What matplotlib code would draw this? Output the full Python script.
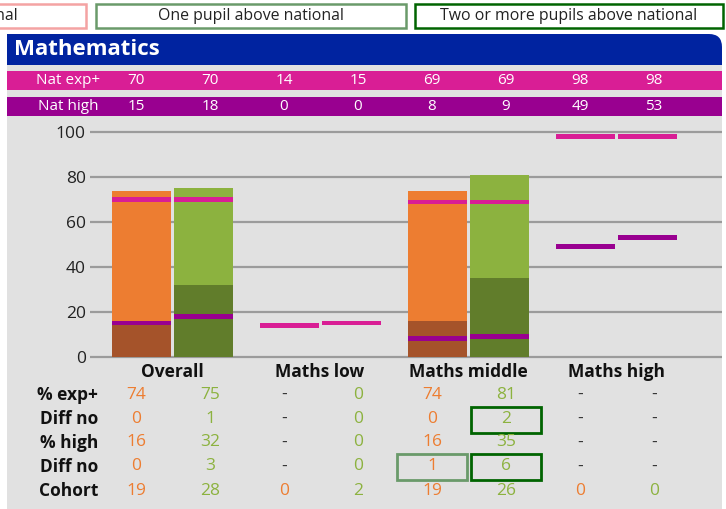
import matplotlib
matplotlib.use("Agg")
import matplotlib.pyplot as plt
from matplotlib.patches import Rectangle, PathPatch
from matplotlib.path import Path

plt.rcParams['font.family'] = ['Open Sans', 'DejaVu Sans']

# ---------------- data ----------------
categories = ["Overall", "Maths low", "Maths middle", "Maths high"]
legend_labels = ["One pupil below national", "One pupil above national",
                 "Two or more pupils above national"]
nat_exp = [70, 70, 14, 15, 69, 69, 98, 98]
nat_high = [15, 18, 0, 0, 8, 9, 49, 53]
bar_exp = [74, 75, None, 0, 74, 81, None, None]
bar_high = [16, 32, None, 0, 16, 35, None, None]
row_labels = ["% exp+", "Diff no", "% high", "Diff no", "Cohort"]
row_exp = ["74", "75", "-", "0", "74", "81", "-", "-"]
row_diff1 = ["0", "1", "-", "0", "0", "2", "-", "-"]
row_high = ["16", "32", "-", "0", "16", "35", "-", "-"]
row_diff2 = ["0", "3", "-", "0", "1", "6", "-", "-"]
row_cohort = ["19", "28", "0", "2", "19", "26", "0", "0"]
highlights = [(1, 5, "two"), (3, 4, "one"), (3, 5, "two")]
yticks = [0, 20, 40, 60, 80, 100]

# ---------------- style ----------------
W, H = 726, 509
ORANGE, DORANGE = "#ED7D31", "#A5532A"
GREEN, DGREEN = "#8CB23F", "#617D2B"
MAGENTA, PURPLE = "#D91E95", "#990090"
BLUE = "#0023A0"
PANEL = "#E1E1E1"
GRID = "#9B9B9B"
BOX_ONE, BOX_TWO, BOX_BELOW = "#6A9A6A", "#006400", "#F4A3A3"

fig = plt.figure(figsize=(W / 100, H / 100), dpi=100)
fig.patch.set_facecolor("white")

# overlay axes in pixel coordinates
ov = fig.add_axes([0, 0, 1, 1], zorder=0)
ov.set_xlim(0, W)
ov.set_ylim(H, 0)
ov.axis("off")

# legend boxes
leg_boxes = [(-224, 86), (96, 406), (415, 723)]
leg_cols = [BOX_BELOW, BOX_ONE, BOX_TWO]
for (x0, x1), col, lab in zip(leg_boxes, leg_cols, legend_labels):
    ov.add_patch(Rectangle((x0, 4), x1 - x0, 24, fill=False, ec=col, lw=1.8))
    if x0 < 0:
        ov.text(x1 - 68, 16, lab, ha="right", va="center", fontsize=11.4, color="#222222")
    else:
        ov.text((x0 + x1) / 2, 16, lab, ha="center", va="center", fontsize=11.4, color="#222222")

# grey panel
ov.add_patch(Rectangle((7, 64), 715, H - 64, fc=PANEL, ec="none"))

# title band with rounded top-right corner
x0, x1, y0, y1, r = 7, 722, 34, 65, 13
verts = [(x0, y1), (x0, y0), (x1 - r, y0), (x1, y0), (x1, y0 + r), (x1, y1), (x0, y1)]
codes = [Path.MOVETO, Path.LINETO, Path.LINETO, Path.CURVE3, Path.CURVE3, Path.LINETO, Path.CLOSEPOLY]
ov.add_patch(PathPatch(Path(verts, codes), fc=BLUE, ec="none"))
ov.text(14, 49, "Mathematics", color="white", fontsize=16, fontweight="bold", va="center", ha="left")

# national bands
col_x = [136 + 74 * k for k in range(8)]
for (yb, ht, col, lab, vals) in [(71, 19, MAGENTA, "Nat exp+", nat_exp),
                                  (97, 19, PURPLE, "Nat high", nat_high)]:
    ov.add_patch(Rectangle((7, yb), 715, ht, fc=col, ec="none"))
    ov.text(68, yb + ht / 2, lab, color="white", fontsize=11, ha="center", va="center")
    for x, v in zip(col_x, vals):
        ov.text(x, yb + ht / 2, str(v), color="white", fontsize=11, ha="center", va="center")

# category labels
grp_x = [172 + 148 * i for i in range(4)]
for x, c in zip(grp_x, categories):
    ov.text(x, 372, c, fontsize=12.5, fontweight="bold", ha="center", va="center", color="#111111")

# table
rows = [row_exp, row_diff1, row_high, row_diff2, row_cohort]
row_y = [395, 419, 442.5, 466.5, 491]
for ry, lab, vals in zip(row_y, row_labels, rows):
    ov.text(98, ry, lab, fontsize=12.5, fontweight="bold", ha="right", va="center", color="#111111")
    for k, (x, v) in enumerate(zip(col_x, vals)):
        if v == "-":
            c = "#333333"
        else:
            c = ORANGE if k % 2 == 0 else GREEN
        ov.text(x, ry, v, fontsize=12.5, ha="center", va="center", color=c)
for r_i, c_i, kind in highlights:
    col = BOX_TWO if kind == "two" else BOX_ONE
    cx, cy = col_x[c_i], row_y[r_i]
    ov.add_patch(Rectangle((cx - 35, cy - 12.5), 70, 26, fill=False, ec=col, lw=2.0))

# ---------------- chart ----------------
px_per_unit = (356.7 - 132.3) / 100
ylo, yhi = -2, 102
bot_px = 356.7 + 2 * px_per_unit
top_px = 132.3 - 2 * px_per_unit
ax = fig.add_axes([90 / W, 1 - bot_px / H, (722 - 90) / W, (bot_px - top_px) / H], zorder=2)
ax.set_facecolor("none")
ax.set_xlim(90, 722)
ax.set_ylim(ylo, yhi)
for s in ax.spines.values():
    s.set_visible(False)
ax.set_xticks([])
ax.set_yticks(yticks)
ax.set_yticklabels([str(t) for t in yticks])
ax.tick_params(axis="y", length=0, pad=3, labelsize=12.5, labelcolor="#222222")
for t in yticks:
    ax.axhline(t, color=GRID, lw=1.6, zorder=1)

bar_x = []
for g in grp_x:
    bar_x += [g - 31, g + 31]
bw = 59
for k, x in enumerate(bar_x):
    light = ORANGE if k % 2 == 0 else GREEN
    dark = DORANGE if k % 2 == 0 else DGREEN
    if bar_exp[k]:
        ax.bar(x, bar_exp[k], width=bw, color=light, zorder=2)
    if bar_high[k]:
        ax.bar(x, bar_high[k], width=bw, color=dark, zorder=3)
    if nat_exp[k]:
        ax.bar(x, 2.1, bottom=nat_exp[k] - 1.05, width=bw, color=MAGENTA, zorder=4)
    if nat_high[k]:
        ax.bar(x, 2.1, bottom=nat_high[k] - 1.05, width=bw, color=PURPLE, zorder=4)

fig.savefig("out.png", dpi=100, facecolor="white")
